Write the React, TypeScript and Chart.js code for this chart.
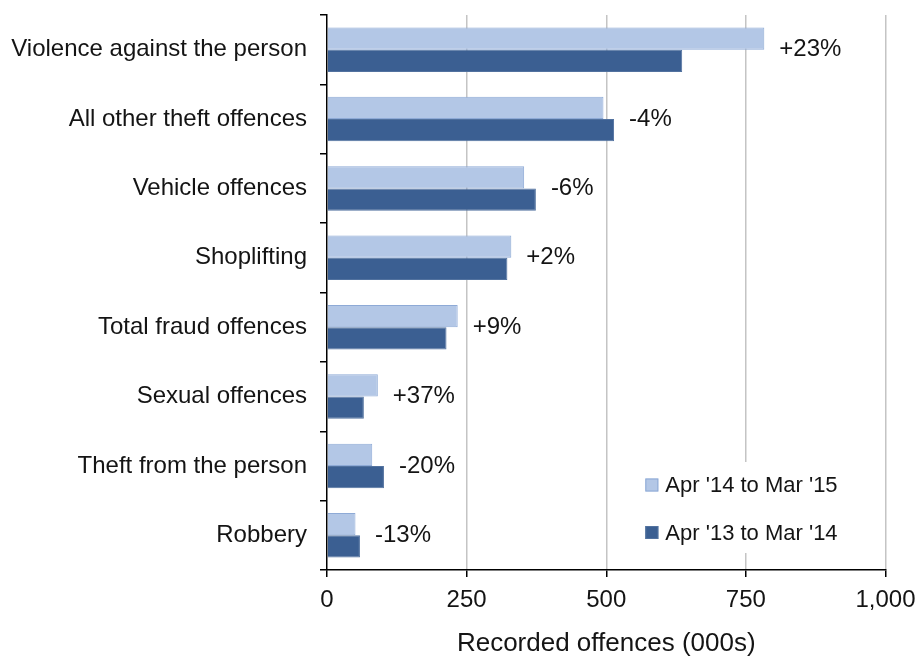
import React, { useEffect, useRef } from "react";
import { Chart, registerables } from "chart.js";

Chart.register(...registerables);

const categories = [
  "Violence against the person",
  "All other theft offences",
  "Vehicle offences",
  "Shoplifting",
  "Total fraud offences",
  "Sexual offences",
  "Theft from the person",
  "Robbery",
];
const seriesCurrentLabel = "Apr '14 to Mar '15";
const seriesPreviousLabel = "Apr '13 to Mar '14";
const currentValues = [783, 495, 353, 330, 234, 91, 81, 51];
const previousValues = [636, 514, 374, 323, 214, 66, 102, 59];
const changeLabels = ["+23%", "-4%", "-6%", "+2%", "+9%", "+37%", "-20%", "-13%"];
const xTickValues = [0, 250, 500, 750, 1000];
const xAxisTitle = "Recorded offences (000s)";

const FONT = '"Liberation Sans", Arial, sans-serif';
const TEXT = "#141414";
const LIGHT_FILL = "#b3c7e6";
const LIGHT_BORDER = "#8eaad6";
const DARK_FILL = "#3b5f92";
const DARK_BORDER = "#52729f";

const changeLabelPlugin = {
  id: "changeLabels",
  afterDatasetsDraw(chart: any) {
    const ctx = chart.ctx;
    const m0 = chart.getDatasetMeta(0);
    const m1 = chart.getDatasetMeta(1);
    const yScale = chart.scales.y;
    ctx.save();
    ctx.font = `24px ${FONT}`;
    ctx.fillStyle = TEXT;
    ctx.textAlign = "left";
    ctx.textBaseline = "middle";
    changeLabels.forEach((lbl, i) => {
      const xEnd = Math.max(m0.data[i].x, m1.data[i].x);
      const y = yScale.getPixelForValue(i);
      ctx.fillText(lbl, xEnd + 15, y);
    });
    ctx.restore();
  },
};

const legendPlugin = {
  id: "boxLegend",
  afterDatasetsDraw(chart: any) {
    const ctx = chart.ctx;
    const xs = chart.scales.x;
    const left = xs.getPixelForValue(545);
    const right = xs.getPixelForValue(985);
    const yTop = chart.chartArea.bottom - 108;
    const yBot = chart.chartArea.bottom - 17;
    ctx.save();
    ctx.fillStyle = "#ffffff";
    ctx.fillRect(left, yTop, right - left, yBot - yTop);
    const boxX = xs.getPixelForValue(570);
    chart.data.datasets.forEach((ds: any, i: number) => {
      const cy = yTop + 23 + i * 47.5;
      ctx.fillStyle = ds.backgroundColor;
      ctx.fillRect(boxX, cy - 6.5, 13, 13);
      ctx.strokeStyle = ds.borderColor;
      ctx.lineWidth = 1;
      ctx.strokeRect(boxX + 0.5, cy - 6, 12, 12);
      ctx.fillStyle = TEXT;
      ctx.font = `22px ${FONT}`;
      ctx.textAlign = "left";
      ctx.textBaseline = "middle";
      ctx.fillText(ds.label, boxX + 20, cy + 1);
    });
    ctx.restore();
  },
};

export default function App() {
  const canvasRef = useRef<HTMLCanvasElement | null>(null);

  useEffect(() => {
    if (!canvasRef.current) return;
    const chart = new Chart(canvasRef.current, {
      type: "bar",
      data: {
        labels: categories,
        datasets: [
          {
            label: seriesCurrentLabel,
            data: currentValues,
            backgroundColor: LIGHT_FILL,
            borderColor: LIGHT_BORDER,
            borderWidth: 1,
            categoryPercentage: 0.64,
            barPercentage: 1.0,
          },
          {
            label: seriesPreviousLabel,
            data: previousValues,
            backgroundColor: DARK_FILL,
            borderColor: DARK_BORDER,
            borderWidth: 1,
            categoryPercentage: 0.64,
            barPercentage: 1.0,
          },
        ],
      },
      options: {
        indexAxis: "y",
        animation: false,
        responsive: true,
        maintainAspectRatio: false,
        layout: { padding: { left: 0, top: 15, right: 33.5, bottom: 0 } },
        plugins: {
          legend: { display: false },
          tooltip: { enabled: false },
        },
        scales: {
          x: {
            type: "linear",
            min: 0,
            max: 1000,
            afterBuildTicks(scale: any) {
              scale.ticks = xTickValues.map((v) => ({ value: v }));
            },
            afterFit(scale: any) {
              scale.height = 87;
              scale.paddingLeft = 0;
              scale.paddingRight = 0;
            },
            ticks: {
              font: { family: FONT, size: 24 },
              color: TEXT,
              padding: 9,
              maxRotation: 0,
              callback: (v: any) => Number(v).toLocaleString("en-US"),
            },
            grid: {
              color: (c: any) => (c.tick && c.tick.value === 0 ? "rgba(0,0,0,0)" : "#c4c4c4"),
              tickColor: "#000000",
              tickLength: 7,
              lineWidth: 1.5,
            },
            border: { color: "#000000", width: 1.5 },
            title: {
              display: true,
              text: xAxisTitle,
              font: { family: FONT, size: 26, lineHeight: 1 },
              color: TEXT,
              padding: { top: 0, bottom: 0 },
            },
          },
          y: {
            type: "category",
            afterFit(scale: any) {
              scale.width = 327;
              scale.paddingTop = 0;
              scale.paddingBottom = 0;
            },
            ticks: {
              font: { family: FONT, size: 24 },
              color: TEXT,
              padding: 13,
              autoSkip: false,
            },
            grid: {
              offset: true,
              drawOnChartArea: false,
              color: "#000000",
              tickColor: "#000000",
              tickLength: 7,
              lineWidth: 1.5,
            },
            border: { color: "#000000", width: 1.5 },
          },
        },
      },
      plugins: [changeLabelPlugin, legendPlugin],
    } as any);
    return () => chart.destroy();
  }, []);

  return (
    <div style={{ position: "absolute", left: 0, top: 0, width: 919, height: 657, background: "#ffffff" }}>
      <canvas ref={canvasRef} />
    </div>
  );
}
